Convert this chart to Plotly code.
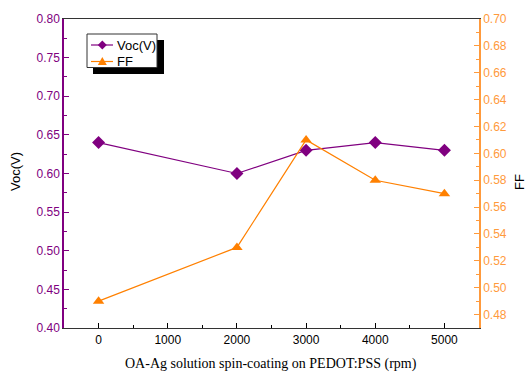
import plotly.graph_objects as go

rpm = [0, 2000, 3000, 4000, 5000]
voc = [0.64, 0.60, 0.63, 0.64, 0.63]
ff = [0.49, 0.53, 0.61, 0.58, 0.57]
series_names = ["Voc(V)", "FF"]

PURPLE = "#800080"
ORANGE = "#FF8000"
AXOR = "#FF9A3C"

fig = go.Figure()
fig.add_trace(go.Scatter(x=rpm, y=voc, name=series_names[0], mode="lines+markers",
                         line=dict(color=PURPLE, width=1.2),
                         marker=dict(symbol="diamond", size=10, color=PURPLE)))
fig.add_trace(go.Scatter(x=rpm, y=ff, name=series_names[1], mode="lines+markers", yaxis="y2",
                         line=dict(color=ORANGE, width=1.2),
                         marker=dict(symbol="triangle-up", size=10, color=ORANGE)))

L, R, T, B = 64, 49, 19, 44
W, H = 528, 372
pw, ph = W - L - R, H - T - B

def px(x):
    return (x - L) / pw

def py(y):
    return 1 - (y - T) / ph

shapes = []
# legend shadow and box
shapes.append(dict(type="rect", xref="paper", yref="paper",
                   x0=px(93), x1=px(164), y0=py(74), y1=py(40),
                   fillcolor="black", line=dict(width=0), layer="above"))
shapes.append(dict(type="rect", xref="paper", yref="paper",
                   x0=px(87), x1=px(157), y0=py(67.5), y1=py(34),
                   fillcolor="white", line=dict(color="#333333", width=1), layer="above"))
# legend lines
for yy, col in [(45, PURPLE), (61.5, ORANGE)]:
    shapes.append(dict(type="line", xref="paper", yref="paper",
                       x0=px(91), x1=px(113), y0=py(yy), y1=py(yy),
                       line=dict(color=col, width=1.2), layer="above"))
# legend diamond
cx, cy = 102.3, 45
d = 4.5
shapes.append(dict(type="path", xref="paper", yref="paper", layer="above",
                   path=f"M {px(cx)},{py(cy-d)} L {px(cx+d)},{py(cy)} L {px(cx)},{py(cy+d)} L {px(cx-d)},{py(cy)} Z",
                   fillcolor=PURPLE, line=dict(width=0)))
# legend triangle
cx, cy = 102.3, 61.5
shapes.append(dict(type="path", xref="paper", yref="paper", layer="above",
                   path=f"M {px(cx)},{py(cy-4.5)} L {px(cx+4.5)},{py(cy+3.5)} L {px(cx-4.5)},{py(cy+3.5)} Z",
                   fillcolor=ORANGE, line=dict(width=0)))

annotations = [
    dict(text=series_names[0], xref="paper", yref="paper", x=px(114.5), y=py(45),
         showarrow=False, xanchor="left", yanchor="middle",
         font=dict(size=13, color="black")),
    dict(text=series_names[1], xref="paper", yref="paper", x=px(114.5), y=py(61.5),
         showarrow=False, xanchor="left", yanchor="middle",
         font=dict(size=13, color="black")),
    dict(text="OA-Ag solution spin-coating on PEDOT:PSS (rpm)", xref="paper", yref="paper",
         x=px(271), y=py(364), showarrow=False, xanchor="center", yanchor="middle",
         font=dict(family="Liberation Serif, Times New Roman", size=14, color="black")),
    dict(text="Voc(V)", xref="paper", yref="paper", x=px(15), y=py(172), textangle=-90,
         showarrow=False, xanchor="center", yanchor="middle",
         font=dict(size=13, color="black")),
    dict(text="FF", xref="paper", yref="paper", x=px(520), y=py(182), textangle=-90,
         showarrow=False, xanchor="center", yanchor="middle",
         font=dict(size=13, color="black")),
]

fig.update_layout(
    width=W, height=H,
    margin=dict(l=L, r=R, t=T, b=B, autoexpand=False),
    paper_bgcolor="white", plot_bgcolor="white",
    font=dict(family="Liberation Sans, Arial", size=12, color="black"),
    showlegend=False,
    hovermode=False,
    xaxis=dict(range=[-500, 5500], dtick=1000, tick0=0, automargin=False,
               ticks="inside", ticklen=5, tickcolor="black",
               minor=dict(dtick=500, ticks="inside", ticklen=3, tickcolor="black"),
               showline=True, linecolor="#333333", linewidth=1.2, mirror=True,
               showgrid=False, zeroline=False,
               tickfont=dict(size=12, color="black")),
    yaxis=dict(range=[0.40, 0.80], dtick=0.05, tick0=0.4, tickformat=".2f",
               automargin=False,
               ticks="inside", ticklen=5, tickcolor=PURPLE,
               minor=dict(dtick=0.025, ticks="inside", ticklen=3, tickcolor=PURPLE),
               showline=True, linecolor=PURPLE, linewidth=1.5,
               showgrid=False, zeroline=False,
               tickfont=dict(size=12, color=PURPLE)),
    yaxis2=dict(range=[0.47, 0.70], dtick=0.02, tick0=0.48, tickformat=".2f",
                overlaying="y", side="right", automargin=False,
                ticks="inside", ticklen=5, tickcolor=AXOR,
                minor=dict(dtick=0.01, ticks="inside", ticklen=3, tickcolor=AXOR),
                showline=True, linecolor=AXOR, linewidth=1.5,
                showgrid=False, zeroline=False,
                tickfont=dict(size=12, color=AXOR)),
    shapes=shapes,
    annotations=annotations,
)

fig.write_html("out.html", config={"displayModeBar": False},
               post_script="document.body.style.margin='0';")
